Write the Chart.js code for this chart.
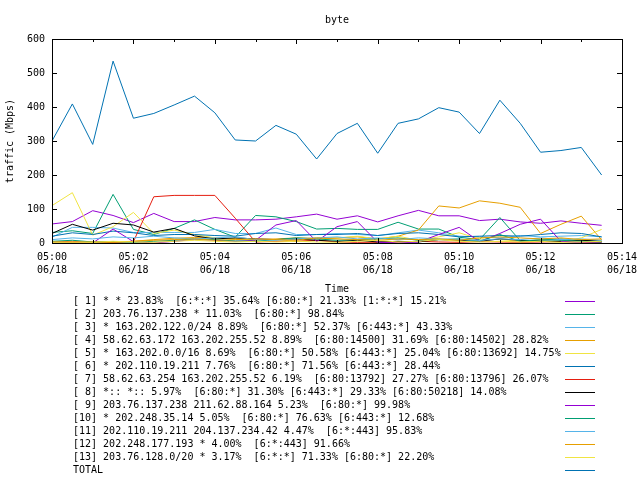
<!DOCTYPE html>
<html>
<head>
<meta charset="utf-8">
<script src="https://cdn.jsdelivr.net/npm/chart.js@4.4.1/dist/chart.umd.min.js"></script>
<style>
  body { margin: 0; background: #fff; }
  canvas { display: block; }
</style>
</head>
<body>
<canvas id="byteGraph" width="640" height="480"></canvas>
<script>
// sample times, one every 30 s
const sampleTimes = [
  '05:00:00', '05:00:30', '05:01:00', '05:01:30', '05:02:00', '05:02:30', '05:03:00',
  '05:03:30', '05:04:00', '05:04:30', '05:05:00', '05:05:30', '05:06:00', '05:06:30',
  '05:07:00', '05:07:30', '05:08:00', '05:08:30', '05:09:00', '05:09:30', '05:10:00',
  '05:10:30', '05:11:00', '05:11:30', '05:12:00', '05:12:30', '05:13:00', '05:13:30'
];
const tickTimes = ['05:00', '05:02', '05:04', '05:06', '05:08', '05:10', '05:12', '05:14'];
const tickDate = '06/18';

// traffic in Mbps
const s1 = [56, 63, 95, 81, 60, 87, 63, 63, 75, 68, 68, 70, 77, 85, 70, 80, 62, 80, 96, 80, 80, 66, 70, 62, 58, 65, 58, 52];
const s2 = [31, 36, 28, 143, 40, 25, 43, 68, 40, 17, 81, 77, 63, 41, 43, 40, 40, 61, 41, 41, 17, 10, 75, 7, 8, 12, 8, 5];
const s3 = [17, 46, 46, 44, 31, 31, 31, 31, 40, 28, 28, 44, 25, 25, 28, 25, 22, 30, 38, 30, 20, 18, 15, 22, 18, 20, 22, 18];
const s4 = [2, 3, 2, 3, 5, 10, 14, 16, 15, 12, 10, 12, 15, 14, 15, 18, 12, 20, 38, 109, 103, 124, 117, 105, 28, 55, 79, 9];
const s5 = [110, 148, 23, 48, 90, 28, 38, 25, 15, 12, 8, 10, 5, 8, 15, 20, 12, 20, 8, 18, 30, 12, 10, 5, 5, 3, 15, 40];
const s6 = [20, 30, 25, 35, 30, 22, 25, 25, 22, 20, 28, 30, 22, 25, 25, 28, 22, 28, 30, 25, 18, 20, 22, 20, 25, 30, 28, 18];
const s7 = [3, 5, 2, 2, 4, 136, 140, 140, 140, 73, 3, 5, 5, 8, 3, 2, 2, 3, 5, 3, 2, 4, 3, 2, 3, 4, 2, 2];
const s8 = [28, 55, 38, 58, 53, 32, 43, 21, 12, 15, 12, 10, 12, 8, 5, 8, 3, 5, 3, 10, 8, 5, 12, 8, 5, 5, 8, 5];
const s9 = [0, 0, 0, 41, 4, 0, 5, 10, 8, 5, 8, 53, 66, 4, 48, 63, 2, 0, 3, 25, 46, 4, 28, 55, 70, 5, 0, 0];
const s10 = [5, 8, 3, 4, 2, 5, 8, 12, 10, 6, 5, 10, 15, 12, 8, 10, 12, 15, 8, 10, 12, 5, 25, 5, 10, 8, 5, 3];
const s11 = [10, 15, 12, 18, 15, 20, 15, 12, 15, 18, 10, 8, 12, 15, 18, 12, 15, 10, 15, 12, 10, 8, 12, 10, 15, 10, 12, 8];
const s12 = [3, 2, 3, 2, 5, 8, 10, 12, 8, 10, 12, 10, 8, 15, 12, 10, 8, 12, 10, 12, 8, 15, 18, 15, 12, 15, 10, 12];
const s13 = [2, 3, 2, 5, 3, 2, 5, 8, 5, 3, 5, 3, 5, 3, 2, 5, 8, 3, 5, 10, 5, 3, 5, 3, 5, 2, 3, 5];
const total = [300, 409, 290, 535, 367, 381, 406, 432, 383, 303, 300, 346, 320, 247, 322, 352, 264, 352, 365, 398, 385, 322, 420, 352, 267, 272, 281, 200];

const legendLabels = [
  '[ 1] * * 23.83%  [6:*:*] 35.64% [6:80:*] 21.33% [1:*:*] 15.21%',
  '[ 2] 203.76.137.238 * 11.03%  [6:80:*] 98.84%',
  '[ 3] * 163.202.122.0/24 8.89%  [6:80:*] 52.37% [6:443:*] 43.33%',
  '[ 4] 58.62.63.172 163.202.255.52 8.89%  [6:80:14500] 31.69% [6:80:14502] 28.82%',
  '[ 5] * 163.202.0.0/16 8.69%  [6:80:*] 50.58% [6:443:*] 25.04% [6:80:13692] 14.75%',
  '[ 6] * 202.110.19.211 7.76%  [6:80:*] 71.56% [6:443:*] 28.44%',
  '[ 7] 58.62.63.254 163.202.255.52 6.19%  [6:80:13792] 27.27% [6:80:13796] 26.07%',
  '[ 8] *:: *:: 5.97%  [6:80:*] 31.30% [6:443:*] 29.33% [6:80:50218] 14.08%',
  '[ 9] 203.76.137.238 211.62.88.164 5.23%  [6:80:*] 99.98%',
  '[10] * 202.248.35.14 5.05%  [6:80:*] 76.63% [6:443:*] 12.68%',
  '[11] 202.110.19.211 204.137.234.42 4.47%  [6:*:443] 95.83%',
  '[12] 202.248.177.193 * 4.00%  [6:*:443] 91.66%',
  '[13] 203.76.128.0/20 * 3.17%  [6:*:*] 71.33% [6:80:*] 22.20%',
  'TOTAL'
];
const lineColors = [
  '#9400d3', '#009e73', '#56b4e9', '#e69f00', '#f0e442', '#0072b2', '#e51e10', '#000000',
  '#9400d3', '#009e73', '#56b4e9', '#e69f00', '#f0e442', '#0072b2'
];

const series = [s1, s2, s3, s4, s5, s6, s7, s8, s9, s10, s11, s12, s13, total];

function toMinutes(t) {
  const [h, m, s] = t.split(':').map(Number);
  return (h - 5) * 60 + m + s / 60;
}

const fontMono = { family: "'DejaVu Sans Mono', monospace", size: 10 };

// gnuplot style frame with inward ticks
const frameTicks = {
  id: 'frameTicks',
  afterDatasetsDraw(chart) {
    const { ctx, chartArea: a, scales: { x, y } } = chart;
    ctx.save();
    ctx.strokeStyle = '#000';
    ctx.lineWidth = 1;
    ctx.strokeRect(Math.round(a.left) + 0.5, Math.round(a.top) + 0.5,
      Math.round(a.right - a.left), Math.round(a.bottom - a.top));
    ctx.beginPath();
    x.ticks.forEach(t => {
      const px = Math.round(x.getPixelForValue(t.value)) + 0.5;
      const len = t.value % 2 === 0 ? 5 : 3;
      ctx.moveTo(px, a.bottom); ctx.lineTo(px, a.bottom - len);
      ctx.moveTo(px, a.top); ctx.lineTo(px, a.top + len);
    });
    y.ticks.forEach(t => {
      const py = Math.round(y.getPixelForValue(t.value)) + 0.5;
      ctx.moveTo(a.left, py); ctx.lineTo(a.left + 5, py);
      ctx.moveTo(a.right, py); ctx.lineTo(a.right - 5, py);
    });
    ctx.stroke();
    ctx.restore();
  }
};

// key below the plot, text on the left and line sample on the right
const keyBelow = {
  id: 'keyBelow',
  afterDraw(chart) {
    const { ctx } = chart;
    ctx.save();
    ctx.font = "10px 'DejaVu Sans Mono', monospace";
    ctx.textBaseline = 'middle';
    ctx.textAlign = 'left';
    chart.data.datasets.forEach((ds, i) => {
      const yy = 301 + i * 13;
      ctx.fillStyle = '#000';
      ctx.fillText(ds.label, 73, yy);
      ctx.strokeStyle = ds.borderColor;
      ctx.lineWidth = 1;
      ctx.beginPath();
      ctx.moveTo(565, yy + 0.5);
      ctx.lineTo(595, yy + 0.5);
      ctx.stroke();
    });
    ctx.restore();
  }
};

const datasets = series.map((vals, i) => ({
  label: legendLabels[i],
  data: vals.map((v, j) => ({ x: toMinutes(sampleTimes[j]), y: v })),
  borderColor: lineColors[i],
  borderWidth: 1,
  pointRadius: 0,
  tension: 0,
  fill: false,
  order: series.length - i
}));

const ctx = document.getElementById('byteGraph').getContext('2d');
const myChart = new Chart(ctx, {
  type: 'line',
  data: { datasets: datasets },
  plugins: [frameTicks, keyBelow],
  options: {
    responsive: false,
    animation: false,
    devicePixelRatio: 1,
    layout: { padding: { left: 0, right: 18, top: 0, bottom: 185 } },
    plugins: {
      legend: { display: false },
      tooltip: { enabled: false },
      title: {
        display: true,
        text: 'byte',
        fullSize: false,
        color: '#000',
        font: { ...fontMono, weight: 'normal' },
        padding: { top: 14, bottom: 13 }
      }
    },
    scales: {
      x: {
        type: 'linear',
        min: 0,
        max: 14,
        grid: { display: false, drawTicks: false },
        border: { display: false },
        ticks: {
          stepSize: 1,
          autoSkip: false,
          maxRotation: 0,
          padding: 8,
          color: '#000',
          font: { ...fontMono, lineHeight: 1.3 },
          callback: v => (v % 2 === 0 ? [tickTimes[v / 2], tickDate] : '')
        },
        title: { display: true, text: 'Time', color: '#000', font: fontMono, padding: { top: 0, bottom: 0 } },
        afterFit(scale) {
          scale.height = 52;
          scale.paddingLeft = 0;
          scale.paddingRight = 0;
        }
      },
      y: {
        min: 0,
        max: 600,
        grid: { display: false, drawTicks: false },
        border: { display: false },
        ticks: { stepSize: 100, padding: 7, color: '#000', font: fontMono },
        title: { display: true, text: 'traffic (Mbps)', color: '#000', font: fontMono, padding: { top: 4, bottom: 0 } },
        afterFit(scale) {
          scale.width = 52;
        }
      }
    }
  }
});
</script>
</body>
</html>
